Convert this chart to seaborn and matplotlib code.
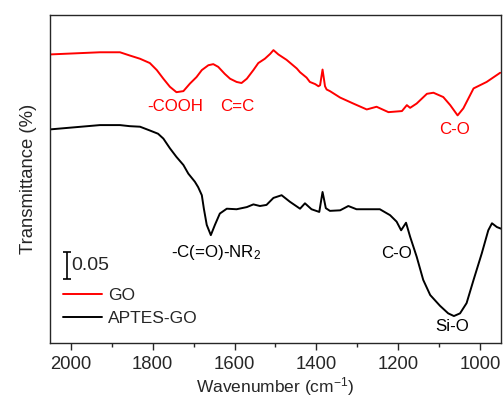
import numpy as np
import pandas as pd
import seaborn as sns
import matplotlib.pyplot as plt
from matplotlib.ticker import MultipleLocator

# Wavenumber (cm-1) and transmittance readings (a.u.) for each spectrum
go_wn = [2051, 1990, 1929, 1880, 1856, 1831, 1807, 1790, 1774, 1758, 1742, 1725,
         1709, 1693, 1680, 1664, 1652, 1640, 1624, 1611, 1595, 1583, 1570, 1554,
         1542, 1526, 1513, 1505, 1493, 1473, 1448, 1440, 1424, 1416, 1403, 1395,
         1391, 1385, 1379, 1375, 1367, 1342, 1310, 1277, 1253, 1224, 1191, 1179,
         1171, 1155, 1130, 1114, 1090, 1073, 1055, 1041, 1016, 984, 951]
go_t = [0.535, 0.537, 0.539, 0.539, 0.533, 0.527, 0.519, 0.506, 0.490, 0.475, 0.465, 0.467,
        0.481, 0.493, 0.506, 0.515, 0.517, 0.512, 0.499, 0.490, 0.484, 0.482, 0.490, 0.506,
        0.519, 0.527, 0.536, 0.543, 0.535, 0.525, 0.509, 0.502, 0.492, 0.484, 0.480, 0.476,
        0.478, 0.507, 0.476, 0.470, 0.467, 0.455, 0.444, 0.433, 0.438, 0.428, 0.430, 0.441,
        0.436, 0.444, 0.462, 0.464, 0.456, 0.441, 0.422, 0.435, 0.472, 0.484, 0.501]

aptes_wn = [2051, 1990, 1929, 1880, 1856, 1831, 1807, 1787, 1774, 1758, 1742, 1725,
            1713, 1697, 1689, 1680, 1675, 1668, 1658, 1648, 1636, 1619, 1595, 1570,
            1554, 1538, 1522, 1505, 1485, 1465, 1440, 1428, 1412, 1393, 1385, 1377,
            1367, 1342, 1322, 1302, 1269, 1245, 1220, 1204, 1193, 1181, 1171, 1155,
            1139, 1122, 1098, 1078, 1064, 1049, 1033, 1016, 996, 980, 971, 959, 949]
aptes_t = [0.396, 0.400, 0.404, 0.404, 0.402, 0.401, 0.394, 0.388, 0.379, 0.361, 0.345, 0.330,
           0.314, 0.299, 0.289, 0.274, 0.249, 0.219, 0.200, 0.219, 0.240, 0.249, 0.248, 0.252,
           0.257, 0.254, 0.256, 0.269, 0.274, 0.262, 0.249, 0.259, 0.248, 0.243, 0.280, 0.250,
           0.245, 0.246, 0.254, 0.248, 0.248, 0.248, 0.237, 0.225, 0.209, 0.223, 0.197, 0.160,
           0.117, 0.089, 0.069, 0.055, 0.050, 0.055, 0.074, 0.117, 0.166, 0.209, 0.222, 0.215, 0.212]

df = pd.concat([
    pd.DataFrame({"wn": go_wn, "t": go_t, "sample": "GO"}),
    pd.DataFrame({"wn": aptes_wn, "t": aptes_t, "sample": "APTES-GO"}),
])

sns.set_style("ticks")
plt.rcParams["font.family"] = ["Liberation Sans", "DejaVu Sans"]
plt.rcParams["mathtext.fontset"] = "custom"
plt.rcParams["mathtext.rm"] = "Liberation Sans"
plt.rcParams["mathtext.it"] = "Liberation Sans"

fig = plt.figure(figsize=(5.04, 4.01), dpi=100)
ax = fig.add_axes([0.0992, 0.1446, 0.8948, 0.8192])

sns.lineplot(data=df, x="wn", y="t", hue="sample", palette={"GO": "#ff0000", "APTES-GO": "black"},
             sort=False, estimator=None, lw=1.4, ax=ax)

ax.set_xlim(2051, 949)
ax.set_ylim(0, 0.609)
ax.set_yticks([])
ax.xaxis.set_major_locator(MultipleLocator(200))
ax.xaxis.set_minor_locator(MultipleLocator(100))
ax.tick_params(axis="x", which="major", length=5, width=1, labelsize=13.3, pad=4)
ax.tick_params(axis="x", which="minor", length=3, width=1)
for s in ax.spines.values():
    s.set_visible(True)
    s.set_linewidth(1)
ax.set_xlabel("Wavenumber (cm$^{-1}$)", fontsize=12.5, labelpad=2)
ax.set_ylabel("Transmittance (%)", fontsize=13.3, labelpad=9)

# peak labels
fs = 12.2
ax.text(1746, 0.439, "-COOH", color="#ff0000", fontsize=fs, ha="center", va="center")
ax.text(1593, 0.439, "C=C", color="#ff0000", fontsize=fs, ha="center", va="center")
ax.text(1063, 0.396, "C-O", color="#ff0000", fontsize=fs, ha="center", va="center")
ax.text(1646, 0.168, "-C(=O)-NR$_2$", color="black", fontsize=fs, ha="center", va="center")
ax.text(1205, 0.166, "C-O", color="black", fontsize=fs, ha="center", va="center")
ax.text(1068, 0.030, "Si-O", color="black", fontsize=fs, ha="center", va="center")

# scale bar
ax.errorbar([2010], [0.143], yerr=[0.025], color="black", capsize=3, lw=1.2, capthick=1.2)
ax.text(1998, 0.143, "0.05", fontsize=14, ha="left", va="center")

handles, labels = ax.get_legend_handles_labels()
ax.legend(handles, labels, loc="lower left", bbox_to_anchor=(-0.005, 0.004), frameon=False,
          fontsize=12.5, handlelength=2.2, handletextpad=0.35, labelspacing=0.45)

fig.savefig("out.png", dpi=100)
